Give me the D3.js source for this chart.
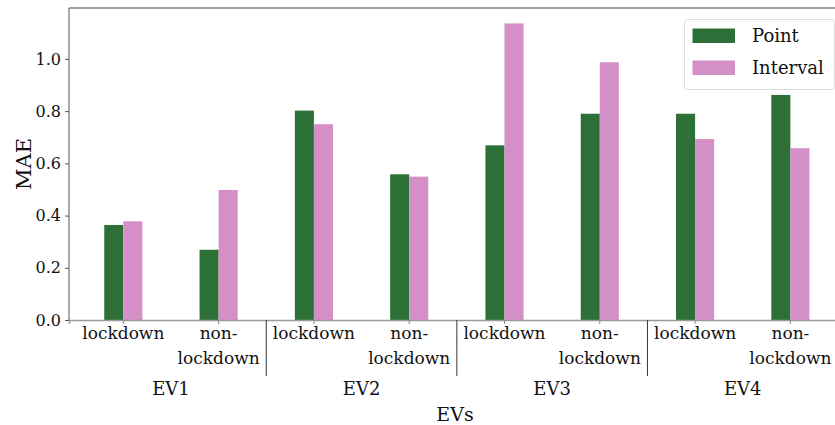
<!DOCTYPE html>
<html><head><meta charset="utf-8">
<script src="https://cdn.jsdelivr.net/npm/d3@7"></script>
<style>html,body{margin:0;padding:0;background:#fff;overflow:hidden}</style>
</head><body><svg id="c" width="835" height="425"></svg>
<script>
const groups = ["EV1","EV2","EV3","EV4"];
const conditions = ["lockdown","non-lockdown"];
const series = ["Point","Interval"];
const pointVals = [0.364, 0.269, 0.802, 0.558, 0.669, 0.790, 0.790, 0.862];
const intervalVals = [0.378, 0.498, 0.750, 0.549, 1.136, 0.987, 0.693, 0.658];
const yTicks = [0.0, 0.2, 0.4, 0.6, 0.8, 1.0];
const colors = ["#2c7038", "#d48fc6"];

const cats = [];
groups.forEach(g => conditions.forEach(c => cats.push(g + "|" + c)));
const rows = cats.map((k, i) => ({key: k, group: k.split("|")[0], cond: k.split("|")[1], Point: pointVals[i], Interval: intervalVals[i]}));

const FONT = "'DejaVu Serif', serif";
const svg = d3.select("#c");
const L = 69, T = 8, B = 320, R = 844.7;

const x0 = d3.scaleBand().domain(cats).range([L, R]).paddingInner(0.6).paddingOuter(0.37);
const x1 = d3.scaleBand().domain(series).range([0, x0.bandwidth()]);
const y = d3.scaleLinear().domain([0, 1.195]).range([B, T]);

// bars
const g = svg.append("g");
rows.forEach(r => {
  series.forEach((s, si) => {
    g.append("rect")
      .attr("x", x0(r.key) + x1(s))
      .attr("y", y(r[s]))
      .attr("width", x1.bandwidth())
      .attr("height", y(0) - y(r[s]))
      .attr("fill", colors[si]);
  });
});

// spines
svg.append("line").attr("x1", L).attr("x2", R).attr("y1", T).attr("y2", T).attr("stroke", "#444").attr("stroke-width", 1);
svg.append("line").attr("x1", L).attr("x2", L).attr("y1", T).attr("y2", B).attr("stroke", "#555").attr("stroke-width", 1);

// y axis
const yAxis = svg.append("g").attr("transform", `translate(${L},0)`)
  .call(d3.axisLeft(y).tickValues(yTicks).tickFormat(d3.format(".1f")).tickSize(4).tickPadding(4));
yAxis.select(".domain").remove();
yAxis.selectAll("line").attr("stroke", "#555");
yAxis.selectAll("text").attr("font-family", FONT).attr("font-size", 16).attr("fill", "#111");

// x axis
const xAxis = svg.append("g").attr("transform", `translate(0,${B})`)
  .call(d3.axisBottom(x0).tickSize(4).tickFormat(() => ""));
xAxis.select(".domain").attr("stroke", "#999").attr("stroke-width", 1.5);
xAxis.selectAll(".tick line").attr("stroke", "#888");
xAxis.selectAll(".tick").each(function(d) {
  const cond = d.split("|")[1];
  const t = d3.select(this).append("text").attr("fill", "#111").attr("font-family", FONT).attr("font-size", 17).attr("text-anchor", "middle");
  if (cond === "lockdown") {
    t.append("tspan").attr("x", 0).attr("y", 19).text("lockdown");
  } else {
    t.append("tspan").attr("x", 0).attr("y", 19).text("non-");
    t.append("tspan").attr("x", 0).attr("y", 44).text("lockdown");
  }
});

// group separators and labels
groups.forEach((gr, gi) => {
  const a = x0(gr + "|lockdown") + x0.bandwidth() / 2;
  const b = x0(gr + "|non-lockdown") + x0.bandwidth() / 2;
  svg.append("text").attr("x", (a + b) / 2).attr("y", 395).attr("text-anchor", "middle")
    .attr("font-family", FONT).attr("font-size", 18).attr("fill", "#111").text(gr);
  if (gi > 0) {
    const sx = (x0(groups[gi - 1] + "|non-lockdown") + x0(gr + "|lockdown") + x0.bandwidth()) / 2;
    svg.append("line").attr("x1", sx).attr("x2", sx).attr("y1", B).attr("y2", 376).attr("stroke", "#333").attr("stroke-width", 1);
  }
});

// axis titles
svg.append("text").attr("x", 455).attr("y", 421).attr("text-anchor", "middle")
  .attr("font-family", FONT).attr("font-size", 19).attr("fill", "#111").text("EVs");
svg.append("text").attr("transform", `translate(31,${(T + B) / 2}) rotate(-90)`).attr("text-anchor", "middle")
  .attr("font-family", FONT).attr("font-size", 21).attr("fill", "#111").text("MAE");

// legend
const lg = svg.append("g").attr("transform", "translate(684,19)");
lg.append("rect").attr("x", 0.5).attr("y", 0.5).attr("width", 150).attr("height", 70).attr("rx", 3)
  .attr("fill", "#fff").attr("fill-opacity", 0.85).attr("stroke", "#ddd");
series.forEach((s, i) => {
  lg.append("rect").attr("x", 8.5).attr("y", 9.5 + i * 32).attr("width", 42.5).attr("height", 14.5).attr("fill", colors[i]);
  lg.append("text").attr("x", 68).attr("y", 17 + i * 32).attr("dy", "0.35em")
    .attr("font-family", FONT).attr("font-size", 18).attr("fill", "#111").text(s);
});
</script>
</body></html>
